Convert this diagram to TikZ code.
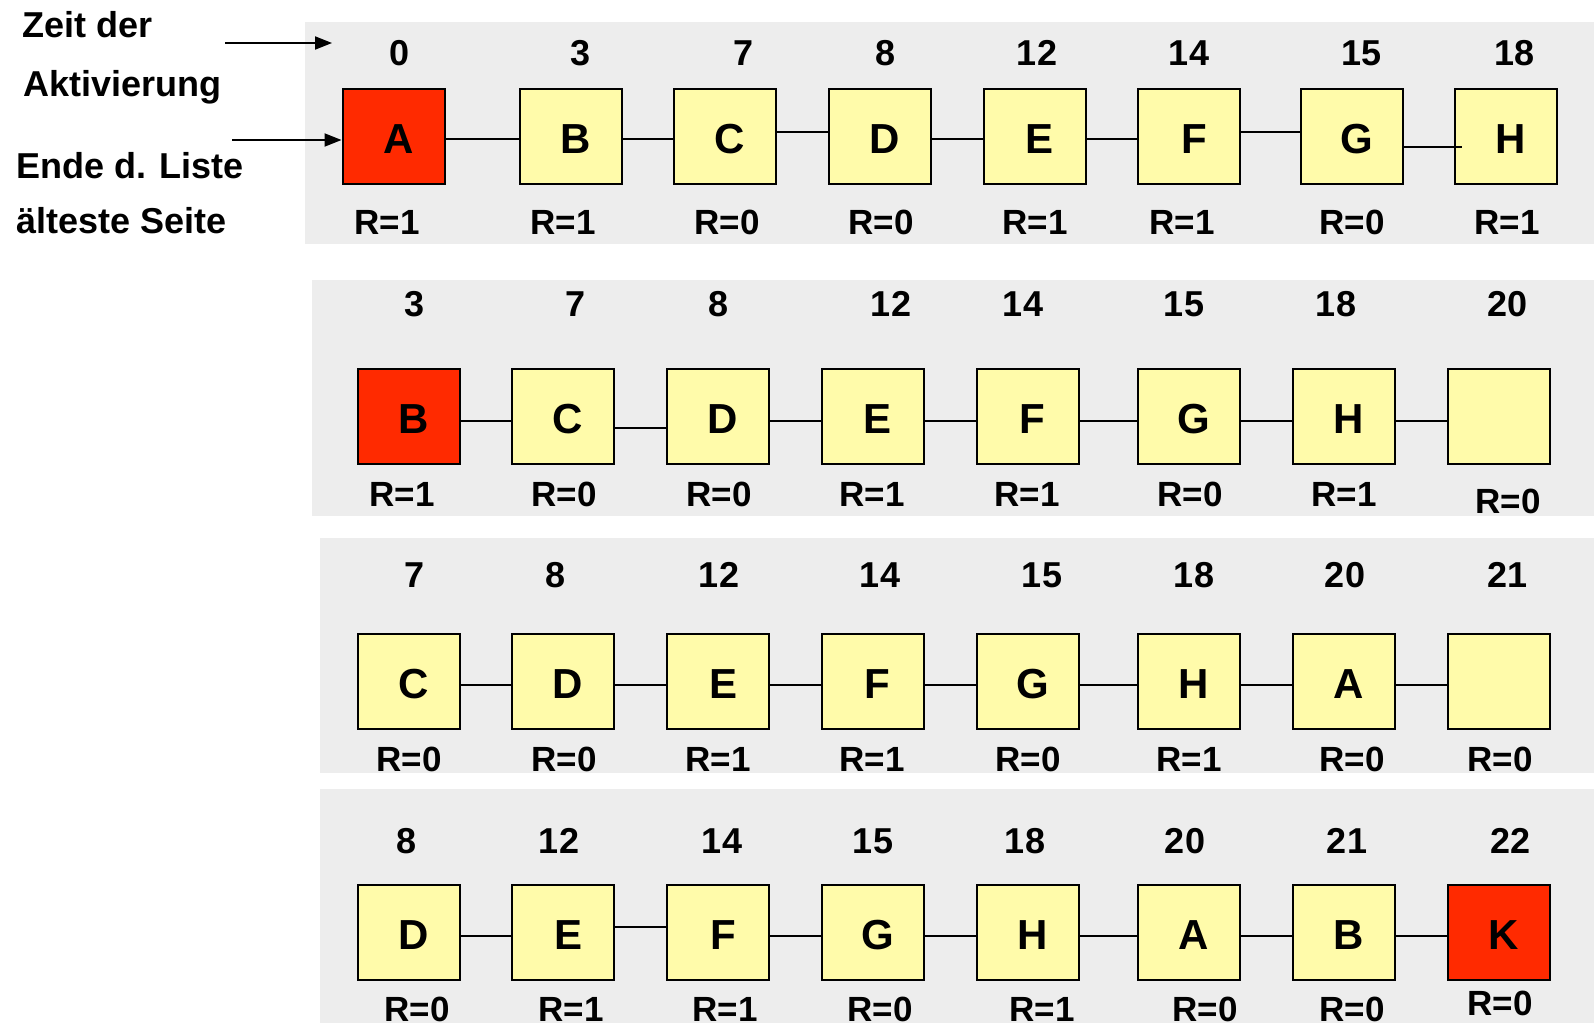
\documentclass[tikz,border=0pt]{standalone}
\usepackage{fontspec}
\setmainfont{Liberation Sans}
\usetikzlibrary{arrows.meta}

\definecolor{panelgray}{HTML}{EDEDED}
\definecolor{pageyellow}{HTML}{FFFBAA}
\definecolor{victimred}{HTML}{FF2A00}

\begin{document}
\begin{tikzpicture}[x=1pt, y=-1pt,
		panel/.style={fill=panelgray, draw=none},
		pagebox/.style={draw=black, line width=2pt, fill=pageyellow, minimum width=102pt, minimum height=95pt, inner sep=0pt, text height=34pt, text depth=0pt, font=\fontsize{42}{48}\selectfont\bfseries},
		zeit/.style={font=\fontsize{36}{40}\selectfont\bfseries, inner sep=0pt},
		rbit/.style={font=\fontsize{35}{40}\selectfont\bfseries, inner sep=0pt},
		side/.style={font=\fontsize{36}{42}\selectfont\bfseries, anchor=base west, inner sep=0pt},
		link/.style={line width=2pt},
		pointer/.style={line width=2pt, -{Triangle[length=17pt, width=13pt]}}]
		
		\useasboundingbox (0,0) rectangle (1594,1023);
		
		% --- GREY BANDS ---
		\fill[panel] (305,22) rectangle (1594,244);
		\fill[panel] (312,280) rectangle (1594,516);
		\fill[panel] (320,538) rectangle (1594,773);
		\fill[panel] (320,789) rectangle (1594,1023);
		
		% --- LEFT LABELS ---
		\node[side] (zeitLbl) at (22,37) {Zeit der};
		\node[side] (aktLbl) at (23,96) {Aktivierung};
		\node[side] (endeLbl) at (16,178) {Ende d. Liste};
		\node[side] (altLbl) at (16,233) {älteste Seite};
		
		% --- ROW 1 ---
		\foreach \i/\x/\pg/\fc/\tx/\tm/\rx/\ry/\rv in {
			1/393.5/A/victimred/400/0/387/222/1, 2/570.5/B/pageyellow/581/3/563/222/1,
			3/725/C/pageyellow/743/7/727/222/0, 4/880/D/pageyellow/885/8/881/222/0,
			5/1034.5/E/pageyellow/1037/12/1035/222/1, 6/1189/F/pageyellow/1189/14/1182/222/1,
			7/1351.5/G/pageyellow/1361/15/1352/222/0, 8/1506/H/pageyellow/1514/18/1507/222/1}
		{
			\node[pagebox, fill=\fc] (p1-\i) at (\x,136.5) {\kern10pt\pg};
			\node[zeit] (t1-\i) at (\tx,53) {\tm};
			\node[rbit] (r1-\i) at (\rx,\ry) {R=\rv};
		}
		\foreach \a/\b/\dy in {1/2/-2.5, 2/3/-2.5, 3/4/4.5, 4/5/-2.5, 5/6/-2.5, 6/7/4.5}
			\draw[link] ([yshift=\dy pt]p1-\a.east) -- ([yshift=\dy pt]p1-\b.west);
		\draw[link] ([yshift=-10.5pt]p1-7.east) -- ([yshift=-10.5pt, xshift=8pt]p1-8.west);
		
		% pointers into row 1
		\coordinate (zeitStart) at (225,43);
		\coordinate (zeitEnd) at (332,43);
		\coordinate (endeStart) at (232,140);
		\draw[pointer] (zeitStart) -- (zeitEnd);
		\draw[pointer] (endeStart) -- (endeStart -| p1-1.west);
		
		% --- ROW 2 ---
		\foreach \i/\x/\pg/\fc/\tx/\tm/\rx/\ry/\rv in {
			1/409/B/victimred/415/3/402/494/1, 2/563/C/pageyellow/576/7/564/494/0,
			3/718/D/pageyellow/718/8/719/494/0, 4/872.5/E/pageyellow/891/12/872/494/1,
			5/1027.5/F/pageyellow/1023/14/1027/494/1, 6/1189/G/pageyellow/1184/15/1190/494/0,
			7/1344/H/pageyellow/1336/18/1344/494/1, 8/1499/{}/pageyellow/1507/20/1508/501/0}
		{
			\node[pagebox, fill=\fc] (p2-\i) at (\x,416.5) {\kern10pt\pg};
			\node[zeit] (t2-\i) at (\tx,304) {\tm};
			\node[rbit] (r2-\i) at (\rx,\ry) {R=\rv};
		}
		\foreach \a/\b/\dy in {1/2/-4, 2/3/-11, 3/4/-4, 4/5/-4, 5/6/-4, 6/7/-4, 7/8/-4}
			\draw[link] ([yshift=\dy pt]p2-\a.east) -- ([yshift=\dy pt]p2-\b.west);
		
		% --- ROW 3 ---
		\foreach \i/\x/\pg/\fc/\tx/\tm/\rx/\ry/\rv in {
			1/409/C/pageyellow/415/7/409/759/0, 2/563/D/pageyellow/556/8/564/759/0,
			3/718/E/pageyellow/719/12/718/759/1, 4/872.5/F/pageyellow/880/14/872/759/1,
			5/1027.5/G/pageyellow/1042/15/1028/759/0, 6/1189/H/pageyellow/1194/18/1189/759/1,
			7/1344/A/pageyellow/1345/20/1352/759/0, 8/1499/{}/pageyellow/1507/21/1500/759/0}
		{
			\node[pagebox, fill=\fc] (p3-\i) at (\x,681.5) {\kern10pt\pg};
			\node[zeit] (t3-\i) at (\tx,575) {\tm};
			\node[rbit] (r3-\i) at (\rx,\ry) {R=\rv};
		}
		\foreach \a/\b in {1/2, 2/3, 3/4, 4/5, 5/6, 6/7, 7/8}
			\draw[link] ([yshift=-3.5pt]p3-\a.east) -- ([yshift=-3.5pt]p3-\b.west);
		
		% --- ROW 4 ---
		\foreach \i/\x/\pg/\fc/\tx/\tm/\rx/\ry/\rv in {
			1/409/D/pageyellow/407/8/417/1009/0, 2/563/E/pageyellow/559/12/571/1009/1,
			3/718/F/pageyellow/722/14/725/1009/1, 4/872.5/G/pageyellow/873/15/880/1009/0,
			5/1027.5/H/pageyellow/1025/18/1042/1009/1, 6/1189/A/pageyellow/1185/20/1205/1009/0,
			7/1344/B/pageyellow/1347/21/1352/1009/0, 8/1499/K/victimred/1510/22/1500/1003/0}
		{
			\node[pagebox, fill=\fc] (p4-\i) at (\x,932) {\kern10pt\pg};
			\node[zeit] (t4-\i) at (\tx,841) {\tm};
			\node[rbit] (r4-\i) at (\rx,\ry) {R=\rv};
		}
		\foreach \a/\b/\dy in {1/2/-4, 2/3/5, 3/4/-4, 4/5/-4, 5/6/-4, 6/7/-4, 7/8/-4}
			\draw[link] ([yshift=\dy pt]p4-\a.east) -- ([yshift=\dy pt]p4-\b.west);
		
	\end{tikzpicture}
\end{document}
